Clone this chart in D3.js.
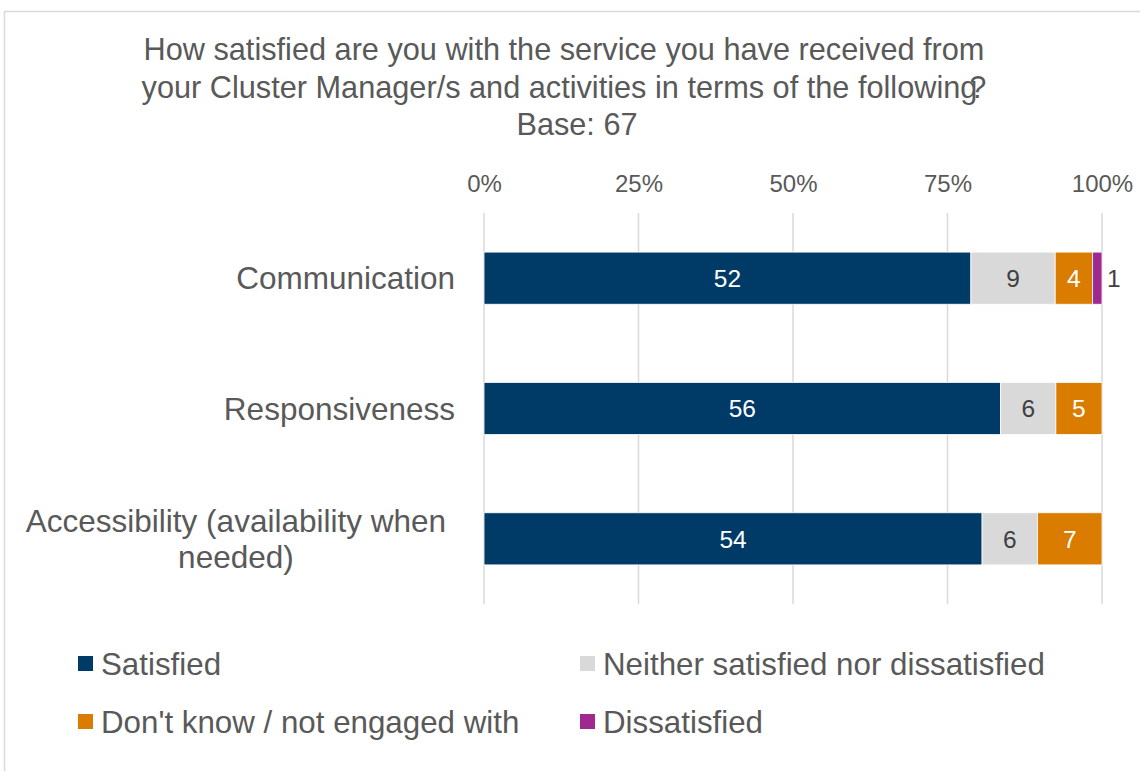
<!DOCTYPE html>
<html>
<head>
<meta charset="utf-8">
<script src="https://cdn.jsdelivr.net/npm/d3@7"></script>
<style>
  html, body { margin: 0; padding: 0; background: #fff; }
  svg { display: block; font-family: "Liberation Sans", Arial, sans-serif; }
</style>
</head>
<body>
<svg id="chart" width="1140" height="771"></svg>
<script>
// Survey responses (counts of respondents), base 67
const categories = ["Communication", "Responsiveness", "Accessibility (availability when needed)"];
const categoryLines = [["Communication"], ["Responsiveness"], ["Accessibility (availability when", "needed)"]];
const seriesNames = ["Satisfied", "Neither satisfied nor dissatisfied", "Don't know / not engaged with", "Dissatisfied"];
const satisfied = [52, 56, 54];
const neither = [9, 6, 6];
const dontKnow = [4, 5, 7];
const dissatisfied = [1, 0, 0];
const tickValues = [0, 0.25, 0.5, 0.75, 1];
const titleLines = [
  "How satisfied are you with the service you have received from",
  "your Cluster Manager/s and activities in terms of the following",
  "Base: 67"
];

const colors = ["#003B68", "#D9D9D9", "#D97C00", "#A0298F"];
const labelColors = ["#FFFFFF", "#404040", "#FFFFFF", "#404040"];
const textColor = "#595959";

const svg = d3.select("#chart");

// chart area frame
svg.append("rect")
  .attr("x", 4.5).attr("y", 11.5)
  .attr("width", 1200).attr("height", 800)
  .attr("fill", "#fff").attr("stroke", "#D9D9D9").attr("stroke-width", 1.5);

// title
const title = svg.append("text")
  .attr("text-anchor", "middle")
  .attr("fill", textColor)
  .attr("font-size", 30.7);
title.append("tspan").attr("x", 564).attr("y", 60).text(titleLines[0]);
const l2 = title.append("tspan").attr("x", 564).attr("y", 98).text(titleLines[1]);
l2.append("tspan").attr("dx", -8).text("?");
title.append("tspan").attr("x", 577).attr("y", 135).text(titleLines[2]);

// table rows built from the series arrays
const rows = categories.map((c, i) => {
  const vals = [satisfied[i], neither[i], dontKnow[i], dissatisfied[i]];
  const total = d3.sum(vals);
  const r = { category: c, total };
  seriesNames.forEach((s, j) => { r[s] = vals[j] / total; r[s + "_n"] = vals[j]; });
  return r;
});

const margin = { left: 484, right: 38, top: 213, bottom: 167 };
const width = 1140 - margin.left - margin.right;
const x = d3.scaleLinear().domain([0, 1]).range([margin.left, margin.left + width]);
const y = d3.scaleBand().domain(categories).range([margin.top, 771 - margin.bottom]).paddingInner(0.6).paddingOuter(0.3);

// vertical gridlines
svg.append("g")
  .selectAll("line")
  .data(tickValues)
  .join("line")
  .attr("x1", d => x(d)).attr("x2", d => x(d))
  .attr("y1", margin.top).attr("y2", 771 - margin.bottom)
  .attr("stroke", "#D9D9D9").attr("stroke-width", 1.5);

// top axis labels
const axis = d3.axisTop(x).tickValues(tickValues).tickFormat(d3.format(".0%")).tickSize(0).tickPadding(0);
const axisG = svg.append("g").attr("transform", `translate(0, 192)`).call(axis);
axisG.select(".domain").remove();
axisG.selectAll("text").attr("font-size", 24).attr("fill", textColor)
  .attr("font-family", "'Liberation Sans', Arial, sans-serif");

// stacked bars
const stack = d3.stack().keys(seriesNames);
const stacked = stack(rows);

const segs = svg.append("g");
stacked.forEach((layer, j) => {
  const g = segs.append("g");
  g.selectAll("rect")
    .data(layer.filter(d => d[1] - d[0] > 0))
    .join("rect")
    .attr("x", d => x(d[0]))
    .attr("y", d => y(d.data.category))
    .attr("width", d => x(d[1]) - x(d[0]))
    .attr("height", y.bandwidth())
    .attr("fill", colors[j])
    .attr("stroke", "#fff").attr("stroke-width", 0.8);

  g.selectAll("text")
    .data(layer.filter(d => d[1] - d[0] > 0))
    .join("text")
    .attr("x", d => {
      const w = x(d[1]) - x(d[0]);
      return w < 20 ? x(d[1]) + 5 : (x(d[0]) + x(d[1])) / 2;
    })
    .attr("text-anchor", d => (x(d[1]) - x(d[0]) < 20 ? "start" : "middle"))
    .attr("y", d => y(d.data.category) + y.bandwidth() / 2)
    .attr("dy", "0.36em")
    .attr("font-size", 24.5)
    .attr("fill", d => (x(d[1]) - x(d[0]) < 20 ? "#404040" : labelColors[j]))
    .text(d => d.data[seriesNames[j] + "_n"]);
});

// category labels
const catG = svg.append("g").attr("fill", textColor).attr("font-size", 31.5);
categories.forEach((c, i) => {
  const lines = categoryLines[i];
  const cy = y(c) + y.bandwidth() / 2;
  const lh = 36;
  const t = catG.append("text").attr("text-anchor", "middle");
  lines.forEach((ln, k) => {
    t.append("tspan")
      .attr("y", cy + (k - (lines.length - 1) / 2) * lh)
      .attr("dy", "0.35em")
      .text(ln);
  });
  // right-align the block, centre lines within it
  const maxW = d3.max(t.selectAll("tspan").nodes(), n => n.getComputedTextLength());
  const right = lines.length > 1 ? 446 : 455;
  t.selectAll("tspan").attr("x", right - maxW / 2);
});

// legend
const legendItems = [
  { name: seriesNames[0], color: colors[0], col: 0, row: 0 },
  { name: seriesNames[1], color: colors[1], col: 1, row: 0 },
  { name: seriesNames[2], color: colors[2], col: 0, row: 1 },
  { name: seriesNames[3], color: colors[3], col: 1, row: 1 }
];
const colX = [78, 580];
const rowY = [664, 722];
const lg = svg.append("g");
legendItems.forEach(it => {
  const gx = colX[it.col], gy = rowY[it.row];
  lg.append("rect").attr("x", gx).attr("y", gy - 8).attr("width", 15).attr("height", 15).attr("fill", it.color);
  lg.append("text").attr("x", gx + 23).attr("y", gy).attr("dy", "0.35em")
    .attr("font-size", 31.3).attr("fill", textColor).text(it.name);
});
</script>
</body>
</html>
